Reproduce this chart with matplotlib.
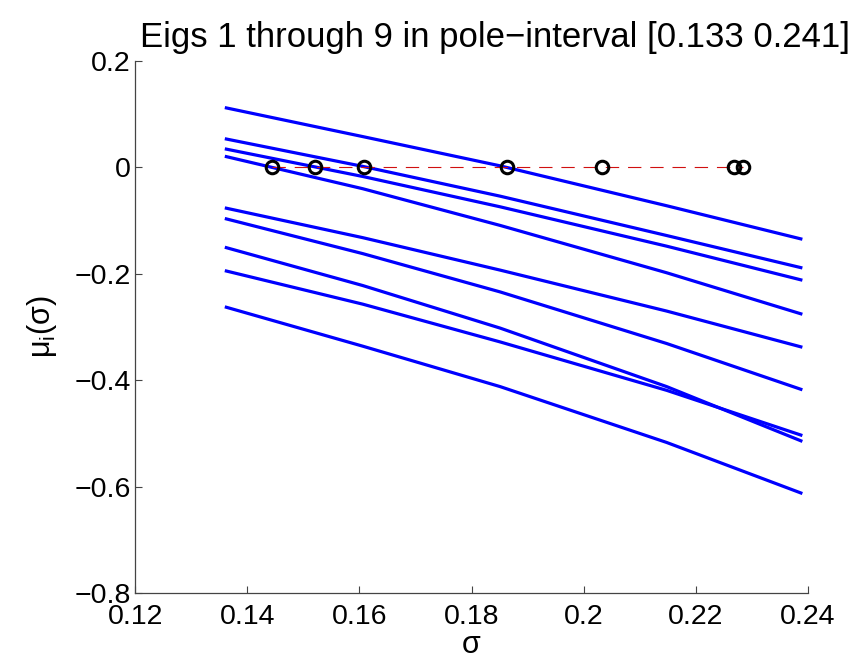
import matplotlib
matplotlib.use("Agg")
import matplotlib.pyplot as plt
from matplotlib.ticker import FixedLocator, FuncFormatter

plt.rcParams['font.family'] = ['Liberation Sans', 'DejaVu Sans']

# sample points in sigma and eigenvalue branches mu_i(sigma)
sigma = [0.136, 0.1606, 0.1851, 0.2148, 0.239]
mu1 = [0.1125, 0.058, 0.003, -0.072, -0.135]
mu2 = [0.054, 0.002, -0.054, -0.128, -0.189]
mu3 = [0.035, -0.017, -0.074, -0.148, -0.212]
mu4 = [0.021, -0.040, -0.109, -0.198, -0.276]
mu5 = [-0.076, -0.132, -0.193, -0.270, -0.338]
mu6 = [-0.096, -0.162, -0.234, -0.331, -0.418]
mu7 = [-0.150, -0.222, -0.302, -0.412, -0.515]
mu8 = [-0.194, -0.257, -0.328, -0.419, -0.504]
mu9 = [-0.262, -0.336, -0.412, -0.517, -0.613]
branches = [mu1, mu2, mu3, mu4, mu5, mu6, mu7, mu8, mu9]

# zero crossings (poles) found in the interval
roots = [0.1444, 0.1521, 0.1608, 0.1863, 0.2032, 0.2268, 0.2285]
root_vals = [0, 0, 0, 0, 0, 0, 0]

xticks = [0.12, 0.14, 0.16, 0.18, 0.2, 0.22, 0.24]
yticks = [-0.8, -0.6, -0.4, -0.2, 0, 0.2]
title = "Eigs 1 through 9 in pole\u2212interval [0.133 0.241]"

fig = plt.figure(figsize=(8.55, 6.6), dpi=100)
ax = fig.add_axes([0.158, 0.1015, 0.787, 0.806])

for mu in branches:
    ax.plot(sigma, mu, color=(0, 0, 1), lw=2.3, solid_capstyle='butt',
            solid_joinstyle='round', zorder=2)

ax.plot(roots, root_vals, color='#d01010', lw=0.8, linestyle=(0, (12, 8)), zorder=3)
ax.plot(roots, root_vals, 'o', ms=9, mfc='none', mec='black', mew=2.2, zorder=4)

ax.set_xlim(0.12, 0.24)
ax.set_ylim(-0.8, 0.2)
ax.xaxis.set_major_locator(FixedLocator(xticks))
ax.yaxis.set_major_locator(FixedLocator(yticks))
fmt = FuncFormatter(lambda v, p: ("%g" % round(v, 4)).replace('-', '\u2212'))
ax.xaxis.set_major_formatter(fmt)
ax.yaxis.set_major_formatter(fmt)

for s in ['top', 'right']:
    ax.spines[s].set_visible(False)
for s in ['left', 'bottom']:
    ax.spines[s].set_color('#444444')
    ax.spines[s].set_linewidth(0.9)

ax.tick_params(direction='in', length=5, width=0.8, color='#444444',
               labelsize=20.5, pad=3)
ax.tick_params(axis='x', pad=8)

ax.set_xlabel("\u03c3", fontsize=22, labelpad=0)
ax.set_ylabel("\u03bc$_\\mathregular{i}$(\u03c3)", fontsize=22, labelpad=11)
ax.set_title(title, fontsize=25, x=0.535, pad=10)

fig.savefig("out.png", dpi=100)
